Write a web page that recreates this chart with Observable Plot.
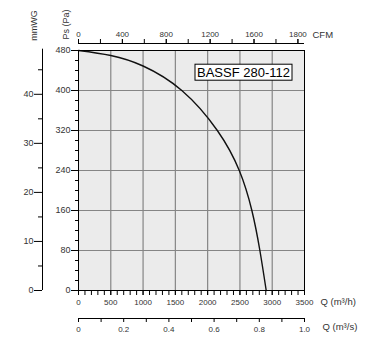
<!DOCTYPE html>
<html>
<head>
<meta charset="utf-8">
<script src="https://cdn.jsdelivr.net/npm/d3@7"></script>
<script src="https://cdn.jsdelivr.net/npm/@observablehq/plot@0.6"></script>
<style>
  html, body { margin: 0; padding: 0; background: #fff; }
  #chart svg { display: block; }
</style>
</head>
<body>
<div id="chart"></div>
<script>
// Fan curve data (Q in m³/h, static pressure in Pa)
const flowQh = [0, 500, 1000, 1600, 2150, 2490, 2685, 2809, 2907];
const pressurePa = [480, 470, 449, 400, 320, 240, 160, 80, 0];

const modelName = "BASSF 280-112";

// Axis ticks
const qhMajor = [0, 500, 1000, 1500, 2000, 2500, 3000, 3500];
const qhMinor = d3.range(0, 3501, 100);
const paMajor = [0, 80, 160, 240, 320, 400, 480];
const paMinor = d3.range(0, 481, 20);
const mmMajor = [0, 10, 20, 30, 40];
const mmMinor = [5, 15, 25, 35, 45];
const mmTop = 49.2;
const cfmTicks = [0, 200, 400, 600, 800, 1000, 1200, 1400, 1600, 1800, 2000];
const cfmLabeled = [0, 400, 800, 1200, 1600, 2000];
const cfmLabelText = ["0", "400", "800", "1200", "1600", "1800"];
const qsMajor = [0, 0.2, 0.4, 0.6, 0.8, 1.0];
const qsMinor = [0.1, 0.3, 0.5, 0.7, 0.9];
const qsLabelText = ["0", "0.2", "0.4", "0.6", "0.8", "1.0"];

// unit conversions
const PA_PER_MM = 9.81;
const QH_PER_CFM = 1.699;
const QH_PER_QS = 3500;

const data = flowQh.map((q, i) => ({q, p: pressurePa[i]}));
const cfmLabelMap = new Map(cfmLabeled.map((c, i) => [c * QH_PER_CFM, cfmLabelText[i]]));
const qsLabelMap = new Map(qsMajor.map((v, i) => [v * QH_PER_QS, qsLabelText[i]]));

const labelColor = "#333";
const gridColor = "#858585";

const chart = Plot.plot({
  width: 375,
  height: 346,
  marginLeft: 78,
  marginRight: 71,
  marginTop: 50,
  marginBottom: 56,
  style: {fontFamily: "'Liberation Sans', Arial, sans-serif", fontSize: "8px", background: "#fff", overflow: "visible"},
  x: {domain: [0, 3500], label: null},
  y: {domain: [0, 480], label: null},
  marks: [
    Plot.frame({fill: "#ebebeb", stroke: null}),
    Plot.gridX(qhMajor.slice(1, -1), {stroke: gridColor, strokeOpacity: 1, strokeWidth: 1.2}),
    Plot.gridY(paMajor.slice(1, -1), {stroke: gridColor, strokeOpacity: 1, strokeWidth: 1.2}),
    Plot.line(data, {x: "q", y: "p", curve: "natural", stroke: "#111", strokeWidth: 1.4}),
    Plot.frame({stroke: "#000", strokeWidth: 1}),
    Plot.text([modelName], {frameAnchor: "top-right", dx: -61, dy: 17, textAnchor: "middle", fontSize: 13, fill: "#000"}),

    // Bottom axis: Q (m³/h)
    Plot.axisX(qhMinor, {anchor: "bottom", tickSize: 5, tickFormat: () => "", label: null}),
    Plot.axisX(qhMajor, {anchor: "bottom", tickSize: 5, tickPadding: 4, tickFormat: d => String(d), fill: labelColor, label: null}),
    Plot.text(["Q (m³/h)"], {frameAnchor: "bottom-right", dx: 16, dy: 14, textAnchor: "start", fontSize: 9.5, fill: labelColor}),

    // Second bottom axis: Q (m³/s)
    Plot.ruleY([0], {x1: 0, x2: 3500, dy: 28, stroke: "#000"}),
    Plot.axisX(qsMinor.map(v => v * QH_PER_QS), {anchor: "bottom", dy: 28, tickSize: 4, tickFormat: () => "", label: null}),
    Plot.axisX(qsMajor.map(v => v * QH_PER_QS), {anchor: "bottom", dy: 28, tickSize: 4, tickPadding: 4, tickFormat: d => qsLabelMap.get(d), fill: labelColor, label: null}),
    Plot.text(["Q (m³/s)"], {frameAnchor: "bottom-right", dx: 18, dy: 39, textAnchor: "start", fontSize: 9.5, fill: labelColor}),

    // Top axis: CFM
    Plot.ruleY([480], {x1: 0, x2: 3500, dy: -7, stroke: "#000"}),
    Plot.axisX(cfmTicks.map(c => c * QH_PER_CFM), {anchor: "top", dy: -7, tickSize: 5, tickFormat: () => "", label: null}),
    Plot.axisX(cfmLabeled.map(c => c * QH_PER_CFM), {anchor: "top", dy: -7, tickSize: 5, tickPadding: 2, tickFormat: d => cfmLabelMap.get(d), fill: labelColor, label: null}),
    Plot.text(["CFM"], {frameAnchor: "top-right", dx: 8, dy: -19, textAnchor: "start", fontSize: 9.5, fill: labelColor}),

    // Left axis: Ps (Pa)
    Plot.axisY(paMinor, {anchor: "left", tickSize: 3, tickFormat: () => "", label: null}),
    Plot.axisY(paMajor, {anchor: "left", tickSize: 7, tickPadding: 1, fontSize: 9, tickFormat: d => String(d), fill: labelColor, label: null}),
    Plot.text(["Ps (Pa)"], {frameAnchor: "top-left", dx: -16, dy: -26, rotate: -90, textAnchor: "middle", fontSize: 9, fill: labelColor}),

    // Far-left axis: mmWG
    Plot.ruleX([0], {y1: 0, y2: mmTop * PA_PER_MM, dx: -36, stroke: "#000"}),
    Plot.axisY(mmMinor.map(m => m * PA_PER_MM), {anchor: "left", dx: -36, tickSize: 4, tickFormat: () => "", label: null}),
    Plot.axisY(mmMajor.map(m => m * PA_PER_MM), {anchor: "left", dx: -36, tickSize: 8, tickPadding: 1, fontSize: 9, tickFormat: d => String(Math.round(d / PA_PER_MM)), fill: labelColor, label: null}),
    Plot.text(["mmWG"], {frameAnchor: "top-left", dx: -48, dy: -25, rotate: -90, textAnchor: "middle", fontSize: 9, fill: labelColor})
  ]
});

document.getElementById("chart").appendChild(chart);

// Draw the white box around the model label
(function () {
  const svgRect = chart.getBoundingClientRect();
  const t = Array.from(chart.querySelectorAll("text")).find(el => el.textContent === modelName);
  if (!t) return;
  const b = t.getBoundingClientRect();
  const padX = 2, padY = 0.5;
  const rect = document.createElementNS("http://www.w3.org/2000/svg", "rect");
  rect.setAttribute("x", (b.left - svgRect.left - padX).toFixed(1));
  rect.setAttribute("y", (b.top - svgRect.top - padY).toFixed(1));
  rect.setAttribute("width", (b.width + 2 * padX).toFixed(1));
  rect.setAttribute("height", (b.height + 2 * padY).toFixed(1));
  rect.setAttribute("fill", "#fff");
  rect.setAttribute("stroke", "#000");
  rect.setAttribute("stroke-width", "1");
  const g = t.closest("g");
  g.parentNode.insertBefore(rect, g);
})();
</script>
</body>
</html>
